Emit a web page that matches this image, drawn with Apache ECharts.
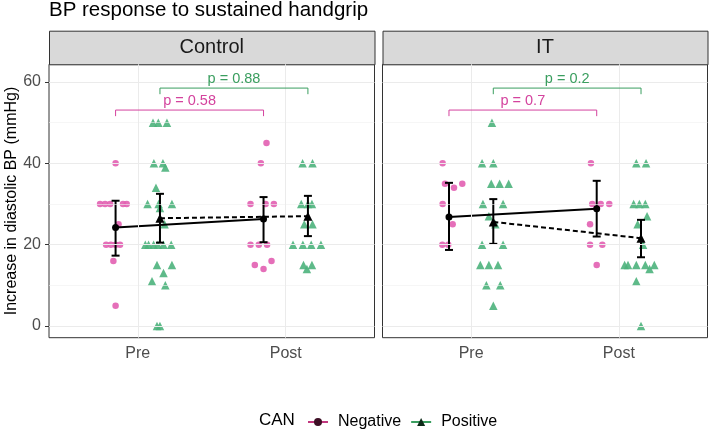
<!DOCTYPE html>
<html>
<head>
<meta charset="utf-8">
<script src="https://cdn.jsdelivr.net/npm/echarts@6/dist/echarts.min.js"></script>
<style>
  html, body { margin: 0; padding: 0; background: #fff; }
  #chart { width: 709px; height: 431px; }
</style>
</head>
<body>
<div id="chart"></div>
<script>
const panels = ["Control", "IT"];
const times = ["Pre", "Post"];
const groups = ["Negative", "Positive"];
const yTicks = [0, 20, 40, 60];
const yMinor = [10, 30, 50];

// raw points: [value, horizontal jitter]
const ctrlPreNeg = [[40, 0], [30, -0.105], [30, -0.071], [30, -0.037], [30, 0.05], [30, 0.075], [25, 0.02],
  [20, -0.064], [20, -0.032], [20, 0], [20, 0.03], [16, -0.015], [5, 0]];
const ctrlPrePos = [[50, -0.047], [50, -0.011], [50, 0.047], [40, -0.041], [40, 0.02], [39, 0.036], [34, -0.027],
  [30, -0.084], [30, -0.009], [30, 0.081], [29, 0], [25, 0.031], [20, -0.099], [20, -0.077], [20, -0.043],
  [20, -0.014], [20, 0.024], [20, 0.076], [15, -0.02], [15, 0.081], [13, 0.024], [11, -0.054], [10, 0.036],
  [0, -0.02], [0, 0]];
const ctrlPostNeg = [[45, 0.02], [40, -0.018], [30, -0.088], [30, 0.014], [30, 0.07], [20, -0.088], [20, -0.032],
  [20, 0.024], [16, 0.054], [15, -0.059], [14, 0]];
const ctrlPostPos = [[40, -0.036], [40, 0.031], [30, -0.045], [30, 0], [30, 0.027], [25, -0.025], [25, 0.031],
  [20, -0.101], [20, -0.034], [20, 0.022], [20, 0.088], [15, -0.03], [15, 0.027], [14, -0.007]];
const itPreNeg = [[40, -0.043], [35, -0.027], [35, 0.09], [34, 0.034], [30, -0.043], [25, 0.025], [20, -0.045], [20, -0.005]];
const itPrePos = [[50, -0.009], [40, -0.076], [40, 0], [35, -0.014], [35, 0.043], [35, 0.104], [30, -0.07], [30, 0.066],
  [27, -0.03], [25, 0.014], [20, -0.076], [20, 0.066], [15, -0.088], [15, -0.03], [15, 0.032], [10, -0.047],
  [10, 0.047], [5, 0]];
const itPostNeg = [[40, -0.039], [30, -0.03], [30, 0.027], [30, 0.085], [25, -0.045], [20, -0.045], [20, 0.038], [15, 0]];
const itPostPos = [[40, -0.032], [40, 0.034], [30, -0.05], [30, -0.011], [30, 0.029], [27, 0.041], [25, -0.023],
  [20, 0.014], [15, -0.111], [15, -0.088], [15, -0.032], [15, 0.029], [15, 0.09], [14, 0.058], [11, -0.032], [0, 0]];

// summaries per time (Pre, Post): [mean, low, high]
const ctrlNegSummary = [[24.2, 17.3, 30.8], [26.3, 20.6, 31.7]];
const ctrlPosSummary = [[26.5, 20.5, 32.5], [27.0, 22.1, 32.0]];
const itNegSummary = [[26.8, 18.7, 35.2], [28.8, 22.0, 35.7]];
const itPosSummary = [[25.6, 20.2, 31.2], [21.6, 16.9, 26.1]];

// p-value brackets: [bracket level, label]
const ctrlBrackets = [[53.1, "p = 0.58"], [58.5, "p = 0.88"]];
const itBrackets = [[53.1, "p = 0.7"], [58.5, "p = 0.2"]];

const raw = [
  [[ctrlPreNeg, ctrlPostNeg], [ctrlPrePos, ctrlPostPos]],
  [[itPreNeg, itPostNeg], [itPrePos, itPostPos]]
];
const summaries = [[ctrlNegSummary, ctrlPosSummary], [itNegSummary, itPosSummary]];
const brackets = [ctrlBrackets, itBrackets];

const pointColors = ["#e25fb1", "#4cb37c"];
const textColors = ["#d4439e", "#3a9e5f"];
const symbols = ["circle", "triangle"];
const dodge = [-0.15, 0.15];
const font = "Liberation Sans, Arial, sans-serif";

const grids = [
  { left: 49, top: 64.3, width: 325.5, height: 273.4, show: true, borderColor: "#333", borderWidth: 1, backgroundColor: "#fff" },
  { left: 382.5, top: 64.3, width: 325, height: 273.4, show: true, borderColor: "#333", borderWidth: 1, backgroundColor: "#fff" }
];

const xAxes = panels.map((p, i) => ({
  type: "value", gridIndex: i, min: 0.4, max: 2.6,
  splitLine: { show: false }, axisLine: { show: false },
  axisTick: { show: true, length: 4, customValues: [1, 2], lineStyle: { color: "#333" } },
  axisLabel: {
    customValues: [1, 2], margin: 8, color: "#4d4d4d", fontSize: 16, fontFamily: font,
    formatter: v => times[Math.round(v) - 1]
  }
}));

const yAxes = panels.map((p, i) => ({
  type: "value", gridIndex: i, min: -2.88, max: 64.35,
  splitLine: { show: false }, axisLine: { show: false },
  axisTick: { show: i === 0, length: 4, customValues: yTicks, lineStyle: { color: "#333" } },
  axisLabel: { show: i === 0, customValues: yTicks, margin: 8, color: "#4d4d4d", fontSize: 16, fontFamily: font },
  name: i === 0 ? "Increase in diastolic BP (mmHg)" : "",
  nameLocation: "middle", nameGap: 28,
  nameTextStyle: { color: "#000", fontSize: 16, fontFamily: font }
}));

const series = [];

panels.forEach((p, i) => {
  // grid lines
  series.push({
    type: "line", xAxisIndex: i, yAxisIndex: i, data: [], z: 0, silent: true,
    markLine: {
      silent: true, symbol: "none", label: { show: false }, animation: false,
      data: [
        ...yTicks.map(v => ({ yAxis: v, lineStyle: { color: "#ebebeb", width: 1, type: "solid" } })),
        ...yMinor.map(v => ({ yAxis: v, lineStyle: { color: "#f0f0f0", width: 0.6, type: "solid" } })),
        ...times.map((t, k) => ({ xAxis: k + 1, lineStyle: { color: "#ebebeb", width: 1, type: "solid" } }))
      ]
    }
  });

  // jittered points
  groups.forEach((g, gi) => {
    const data = [];
    times.forEach((t, ti) => {
      raw[i][gi][ti].forEach(([v, j]) => data.push([ti + 1 + dodge[gi] + j, v]));
    });
    series.push({
      type: "scatter", xAxisIndex: i, yAxisIndex: i, z: 2, silent: true,
      symbol: symbols[gi], symbolSize: gi === 0 ? 6.5 : 8.5,
      itemStyle: { color: pointColors[gi], opacity: 0.9 },
      data: data
    });
  });

  // mean lines
  groups.forEach((g, gi) => {
    series.push({
      type: "line", xAxisIndex: i, yAxisIndex: i, z: 3, silent: true,
      symbol: symbols[gi], symbolSize: gi === 0 ? 7 : 9,
      itemStyle: { color: "#000" },
      lineStyle: { color: "#000", width: 2, type: gi === 0 ? "solid" : [5, 3] },
      data: summaries[i][gi].map((s, ti) => [ti + 1 + dodge[gi], s[0]])
    });
  });

  // error bars
  groups.forEach((g, gi) => {
    series.push({
      type: "custom", xAxisIndex: i, yAxisIndex: i, z: 4, silent: true,
      data: summaries[i][gi].map((s, ti) => [ti + 1 + dodge[gi], s[1], s[2]]),
      renderItem: (params, api) => {
        const x = api.value(0);
        const lo = api.coord([x, api.value(1)]);
        const hi = api.coord([x, api.value(2)]);
        const st = { stroke: "#000", lineWidth: 2 };
        return {
          type: "group", children: [
            { type: "line", shape: { x1: lo[0], y1: lo[1], x2: hi[0], y2: hi[1] }, style: st },
            { type: "line", shape: { x1: lo[0] - 4, y1: lo[1], x2: lo[0] + 4, y2: lo[1] }, style: st },
            { type: "line", shape: { x1: hi[0] - 4, y1: hi[1], x2: hi[0] + 4, y2: hi[1] }, style: st }
          ]
        };
      }
    });
  });

  // comparison brackets
  series.push({
    type: "custom", xAxisIndex: i, yAxisIndex: i, z: 5, silent: true,
    data: brackets[i].map((b, gi) => [1 + dodge[gi], 2 + dodge[gi], b[0], gi]),
    renderItem: (params, api) => {
      const gi = api.value(3);
      const a = api.coord([api.value(0), api.value(2)]);
      const b = api.coord([api.value(1), api.value(2)]);
      const tip = api.coord([api.value(0), api.value(2) - 1.5]);
      const col = textColors[gi];
      return {
        type: "group", children: [
          {
            type: "polyline",
            shape: { points: [[a[0], tip[1]], a, b, [b[0], tip[1]]] },
            style: { stroke: col, lineWidth: 1, fill: null }
          },
          {
            type: "text",
            style: {
              text: brackets[i][gi][1], x: (a[0] + b[0]) / 2, y: a[1] - 2,
              fill: col, font: "14.5px " + font,
              align: "center", verticalAlign: "bottom",
              textAlign: "center", textVerticalAlign: "bottom"
            }
          }
        ]
      };
    }
  });
});

// legend entries
series.push({
  type: "line", name: "Negative", xAxisIndex: 0, yAxisIndex: 0, data: [],
  symbol: "circle", symbolSize: 7,
  itemStyle: { color: "#3d0f25" }, lineStyle: { color: "#c2387f", width: 2 }
});
series.push({
  type: "line", name: "Positive", xAxisIndex: 0, yAxisIndex: 0, data: [],
  symbol: "triangle", symbolSize: 8,
  itemStyle: { color: "#0d2a18" }, lineStyle: { color: "#3a9e5f", width: 2 }
});

const stripGraphics = [];
panels.forEach((p, i) => {
  const g = grids[i];
  stripGraphics.push({
    type: "rect", left: g.left, top: 30.7, silent: true,
    shape: { width: g.width, height: 33.6 },
    style: { fill: "#d9d9d9", stroke: "#333", lineWidth: 1 }
  });
  stripGraphics.push({
    type: "text", silent: true,
    x: g.left + g.width / 2, y: 47.5,
    style: { text: p, fill: "#1a1a1a", font: "20px " + font, align: "center", verticalAlign: "middle" }
  });
});
stripGraphics.push({
  type: "text", silent: true, x: 259, y: 420.7,
  style: { text: "CAN", fill: "#000", font: "17px " + font, align: "left", verticalAlign: "middle" }
});

const chart = echarts.init(document.getElementById("chart"));
chart.setOption({
  animation: false,
  backgroundColor: "#fff",
  title: {
    text: "BP response to sustained handgrip", left: 49, top: 0, padding: 0,
    textStyle: { color: "#000", fontSize: 20.5, fontWeight: "normal", fontFamily: font }
  },
  legend: {
    data: groups, left: 302, top: 409, itemWidth: 20, itemHeight: 10, itemGap: 9,
    textStyle: { color: "#000", fontSize: 16, fontFamily: font, padding: [0, 0, 0, 5] }
  },
  grid: grids,
  xAxis: xAxes,
  yAxis: yAxes,
  graphic: stripGraphics,
  series: series
});
</script>
</body>
</html>
